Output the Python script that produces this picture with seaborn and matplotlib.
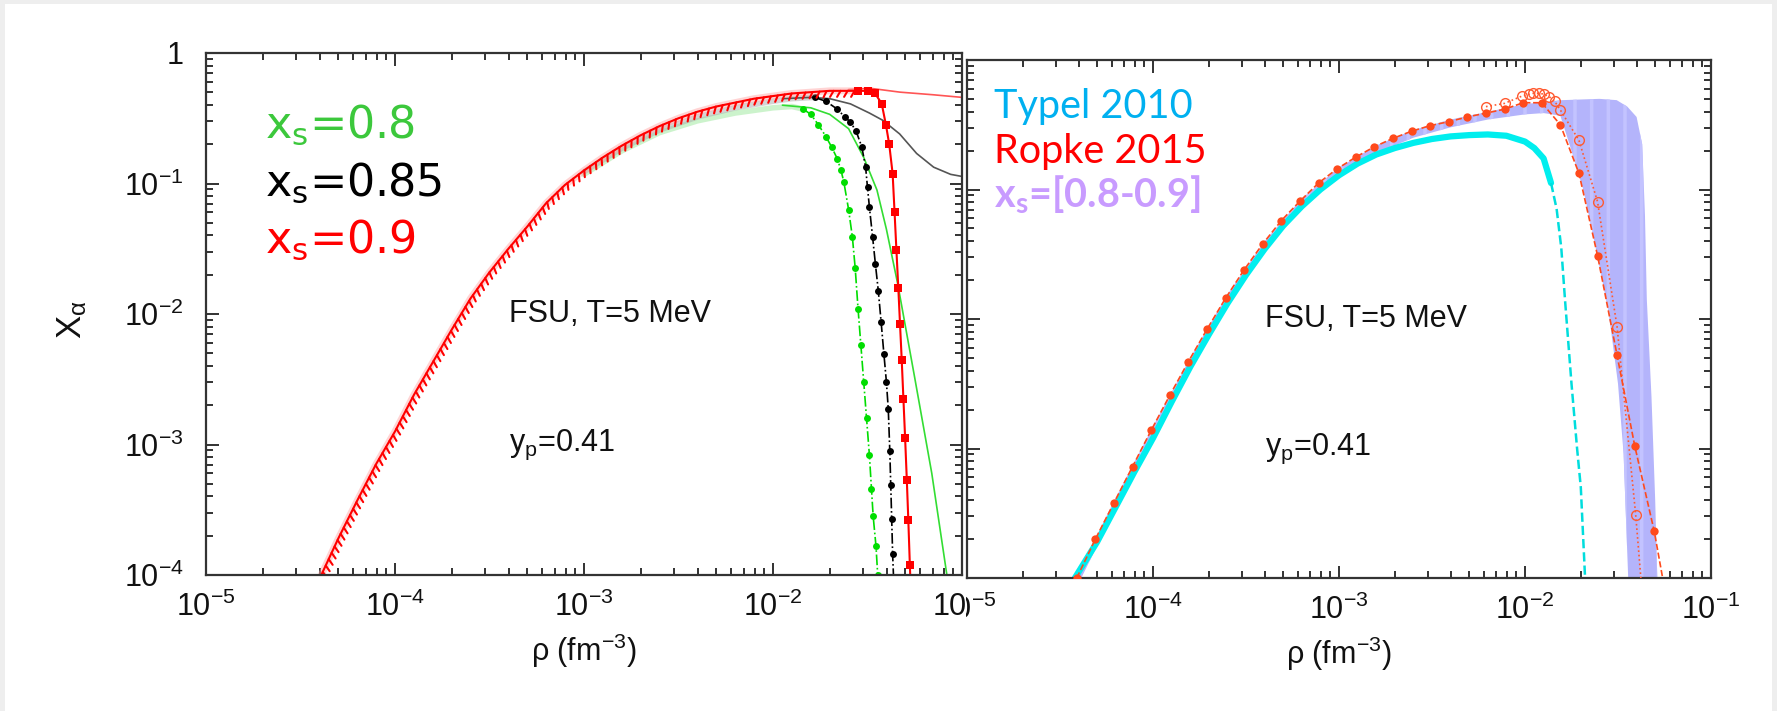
import numpy as np
import matplotlib
matplotlib.use("Agg")
import matplotlib.pyplot as plt
import matplotlib.patheffects as pe
import matplotlib.font_manager as fm
from matplotlib.patches import Rectangle
from matplotlib.ticker import LogLocator, FuncFormatter, NullFormatter
from matplotlib.transforms import Bbox, TransformedBbox
import seaborn as sns

# ---- data, stored as log10 values ----
# left panel
red09_lx = [-4.39, -4.3, -4.2, -4.1, -4.0, -3.9, -3.8, -3.7, -3.6, -3.5, -3.4, -3.3, -3.2, -3.1,
            -3.0, -2.9, -2.8, -2.7, -2.6, -2.5, -2.4, -2.3, -2.2, -2.1, -2.0, -1.9, -1.8, -1.7,
            -1.6, -1.55]
red09_ly = [-4.0, -3.72, -3.43, -3.15, -2.90, -2.62, -2.37, -2.12, -1.88, -1.68, -1.50, -1.33,
            -1.15, -1.01, -0.90, -0.80, -0.71, -0.63, -0.56, -0.50, -0.45, -0.41, -0.38, -0.35,
            -0.33, -0.31, -0.30, -0.29, -0.29, -0.29]
red09_sq_lx = [-1.55, -1.50, -1.46, -1.425, -1.402, -1.385, -1.367, -1.357, -1.347, -1.337,
               -1.328, -1.319, -1.31, -1.301, -1.292, -1.284, -1.276, -1.268]
red09_sq_ly = [-0.29, -0.29, -0.31, -0.387, -0.554, -0.70, -0.925, -1.215, -1.51, -1.80,
               -2.076, -2.35, -2.65, -2.95, -3.27, -3.58, -3.92, -4.25]
red09_thin_lx = [-1.6, -1.487, -1.328, -1.153, -1.0]
red09_thin_ly = [-0.28, -0.27, -0.30, -0.32, -0.34]

blk_dot_lx = [-1.78, -1.72, -1.66, -1.62, -1.59, -1.56, -1.53, -1.51, -1.50, -1.49, -1.473,
              -1.458, -1.443, -1.428, -1.413, -1.40, -1.39, -1.382, -1.377, -1.372, -1.367, -1.36]
blk_dot_ly = [-0.34, -0.37, -0.43, -0.49, -0.53, -0.60, -0.72, -0.875, -1.03, -1.18, -1.41,
              -1.62, -1.82, -2.06, -2.31, -2.52, -2.73, -3.05, -3.31, -3.57, -3.84, -4.1]
blk_thin_lx = [-1.95, -1.8, -1.7, -1.59, -1.49, -1.42, -1.33, -1.24, -1.15, -1.06, -1.0]
blk_thin_ly = [-0.35, -0.34, -0.35, -0.39, -0.46, -0.515, -0.62, -0.77, -0.875, -0.93, -0.946]

grn_dot_lx = [-1.84, -1.80, -1.76, -1.72, -1.69, -1.66, -1.64, -1.625, -1.60, -1.58, -1.565,
              -1.55, -1.535, -1.52, -1.505, -1.49, -1.479, -1.47, -1.455, -1.446]
grn_dot_ly = [-0.43, -0.47, -0.55, -0.64, -0.72, -0.81, -0.90, -0.99, -1.20, -1.41, -1.65,
              -1.96, -2.24, -2.52, -2.80, -3.08, -3.34, -3.55, -3.78, -4.0]
grn_thin_lx = [-1.95, -1.8, -1.7, -1.6, -1.52, -1.45, -1.40, -1.34, -1.25, -1.16, -1.08, -1.05]
grn_thin_ly = [-0.40, -0.42, -0.47, -0.58, -0.80, -1.05, -1.35, -1.77, -2.49, -3.22, -4.0, -4.3]

faint_grn_lx = [-3.0, -2.8, -2.6, -2.4, -2.2, -2.0, -1.9, -1.84]
faint_grn_ly = [-0.93, -0.75, -0.61, -0.52, -0.46, -0.42, -0.41, -0.43]
faint_gry_lx = [-3.0, -2.8, -2.6, -2.4, -2.2, -2.0, -1.9, -1.78]
faint_gry_ly = [-0.91, -0.73, -0.59, -0.49, -0.42, -0.37, -0.35, -0.34]

# right panel
typel_lx = [-4.42, -4.3, -4.2, -4.1, -4.0, -3.9, -3.8, -3.7, -3.6, -3.5, -3.4, -3.3, -3.2, -3.1,
            -3.0, -2.9, -2.8, -2.7, -2.6, -2.5, -2.4, -2.3, -2.2, -2.1, -2.0, -1.95, -1.9, -1.86]
typel_ly = [-4.0, -3.72, -3.45, -3.18, -2.92, -2.64, -2.37, -2.12, -1.88, -1.66, -1.46, -1.28,
            -1.13, -1.00, -0.89, -0.80, -0.73, -0.68, -0.64, -0.61, -0.59, -0.58, -0.575,
            -0.585, -0.63, -0.68, -0.76, -0.95]
typel_drop_lx = [-1.86, -1.83, -1.805, -1.785, -1.75, -1.72, -1.70, -1.677, -1.67]
typel_drop_ly = [-0.95, -1.15, -1.45, -1.85, -2.5, -3.0, -3.3, -4.0, -4.2]

ropke_lx = [-4.41, -4.31, -4.21, -4.11, -4.01, -3.91, -3.81, -3.71, -3.61, -3.51, -3.41, -3.31,
            -3.21, -3.11, -3.01, -2.91, -2.81, -2.71, -2.61, -2.51, -2.41, -2.31, -2.21, -2.11,
            -2.01, -1.91, -1.81, -1.71, -1.61, -1.505, -1.41, -1.305, -1.21]
ropke_ly = [-4.0, -3.70, -3.42, -3.14, -2.86, -2.59, -2.33, -2.08, -1.84, -1.62, -1.42, -1.24,
            -1.09, -0.95, -0.84, -0.75, -0.67, -0.605, -0.55, -0.507, -0.476, -0.44, -0.41,
            -0.38, -0.33, -0.33, -0.50, -0.875, -1.51, -2.28, -2.98, -3.64, -4.4]
ropke_open_lx = [-2.21, -2.11, -2.015, -1.98, -1.955, -1.926, -1.90, -1.87, -1.84, -1.81, -1.71,
                 -1.61, -1.505, -1.405, -1.36]
ropke_open_ly = [-0.36, -0.335, -0.278, -0.265, -0.257, -0.257, -0.263, -0.283, -0.32, -0.386,
                 -0.62, -1.094, -2.06, -3.51, -4.3]

band_top_lx = [-4.41, -4.2, -4.0, -3.8, -3.6, -3.4, -3.2, -3.0, -2.8, -2.6, -2.4, -2.2, -2.0, -1.8,
               -1.6, -1.507, -1.45, -1.40, -1.37, -1.355, -1.345, -1.32, -1.30, -1.285]
band_top_ly = [-3.98, -3.38, -2.83, -2.30, -1.81, -1.40, -1.07, -0.83, -0.66, -0.54, -0.46, -0.40,
               -0.34, -0.31, -0.30, -0.31, -0.36, -0.44, -0.65, -1.2, -1.85, -2.6, -3.4, -4.2]
band_bot_lx = [-1.44, -1.47, -1.50, -1.55, -1.62, -1.685, -1.75, -1.81, -1.9, -2.0, -2.2, -2.4,
               -2.6, -2.8, -3.0, -3.2, -3.4, -3.6, -3.8, -4.0, -4.2, -4.42]
band_bot_ly = [-4.2, -3.04, -2.5, -1.95, -1.45, -1.01, -0.70, -0.43, -0.41, -0.42, -0.46, -0.52,
               -0.60, -0.72, -0.90, -1.15, -1.47, -1.88, -2.37, -2.90, -3.46, -4.1]

left_labels = [r'x$_\mathregular{s}$=0.8', r'x$_\mathregular{s}$=0.85', r'x$_\mathregular{s}$=0.9']
left_colors = ['#3cc83c', '#000000', '#ff0000']
right_labels = ['Typel 2010', 'Ropke 2015', r'x$_\mathregular{s}$=[0.8-0.9]']
right_colors = ['#00b0f0', '#ff0000', '#c89bff']
right_weights = ['normal', 'normal', 'bold']

# ---- style ----
sns.set_theme(style='ticks')
fonts = fm.fontManager.ttflist
names = {f.name for f in fonts}
tick_font = 'Liberation Sans Narrow' if 'Liberation Sans Narrow' in names else 'Liberation Sans'
lato_bold = any(f.name == 'Lato' and f.weight in (700, 'bold') for f in fonts)
bold_font = 'Lato' if lato_bold else 'Open Sans'
plt.rcParams['font.family'] = [tick_font, 'DejaVu Sans']
plt.rcParams['mathtext.fontset'] = 'custom'
plt.rcParams['mathtext.rm'] = tick_font
plt.rcParams['mathtext.sf'] = tick_font
plt.rcParams['mathtext.it'] = tick_font + ':italic'
plt.rcParams['hatch.linewidth'] = 2.5

W, H = 1777, 711
fig = plt.figure(figsize=(W / 100, H / 100), dpi=100)
fig.patch.set_facecolor('#eeeeee')
fig.add_artist(Rectangle((5 / W, 0), 1767 / W, 707 / H, transform=fig.transFigure,
                         facecolor='white', edgecolor='none', zorder=-2))

ax1 = fig.add_axes([206 / W, 1 - 575 / H, 756 / W, 522 / H], zorder=0)
fig.add_artist(Rectangle((965 / W, 0), 807 / W, 707 / H, transform=fig.transFigure,
                         facecolor='white', edgecolor='none', zorder=0.5))
ax2 = fig.add_axes([967 / W, 1 - 578 / H, 744 / W, 518 / H], zorder=1)


def tl(v):
    return 10 ** np.array(v)


def fmt(v, pos):
    e = int(round(np.log10(v)))
    return '1' if e == 0 else r'$\mathsf{10^{%d}}$' % e


for ax in (ax1, ax2):
    ax.set_xscale('log')
    ax.set_yscale('log')
    ax.set_xlim(1e-5, 1e-1)
    ax.set_ylim(1e-4, 1)
    ax.xaxis.set_major_locator(LogLocator(base=10, numticks=10))
    ax.xaxis.set_minor_locator(LogLocator(base=10, subs=np.arange(2, 10), numticks=20))
    ax.yaxis.set_major_locator(LogLocator(base=10, numticks=10))
    ax.yaxis.set_minor_locator(LogLocator(base=10, subs=np.arange(2, 10), numticks=20))
    ax.xaxis.set_major_formatter(FuncFormatter(fmt))
    ax.yaxis.set_major_formatter(FuncFormatter(fmt))
    ax.xaxis.set_minor_formatter(NullFormatter())
    ax.yaxis.set_minor_formatter(NullFormatter())
    ax.tick_params(which='both', direction='in', top=True, right=True, colors='#222222',
                   width=1.3, labelsize=22, labelcolor='#111111')
    ax.tick_params(which='major', length=9)
    ax.tick_params(which='minor', length=5)
    ax.tick_params(axis='x', pad=12)
    ax.tick_params(axis='y', pad=16)
    for s in ax.spines.values():
        s.set_linewidth(1.6)
        s.set_color('#333333')
    ax.set_facecolor('white')
    ax.set_xlabel(r'ρ (fm$^{\mathsf{-3}}$)', fontsize=22, labelpad=6, color='#111111')
    ax.text(4e-4, 1e-2, 'FSU, T=5 MeV', fontsize=22, va='center', ha='left', color='#111111')
    ax.text(4e-4, 1e-3, r'$\mathsf{y_p}$=0.41', fontsize=22, va='center', ha='left',
            color='#111111')

ax2.tick_params(axis='y', labelleft=False)
fig.text(72 / W, 1 - 320 / H, r'$\mathsf{X_{\alpha}}$', rotation=90, fontsize=25,
         ha='center', va='center', color='#111111')

# ---- left panel ----
sns.lineplot(x=tl(faint_grn_lx), y=tl(faint_grn_ly), ax=ax1, sort=False, estimator=None,
             color='#9be89b', lw=4, alpha=0.5)
sns.lineplot(x=tl(faint_gry_lx), y=tl(faint_gry_ly), ax=ax1, sort=False, estimator=None,
             color='#aaaaaa', lw=4, alpha=0.5)
sns.lineplot(x=tl(red09_thin_lx), y=tl(red09_thin_ly), ax=ax1, sort=False, estimator=None,
             color='#ff5555', lw=1.2)
sns.lineplot(x=tl(blk_thin_lx), y=tl(blk_thin_ly), ax=ax1, sort=False, estimator=None,
             color='#555555', lw=1.2)
sns.lineplot(x=tl(grn_thin_lx), y=tl(grn_thin_ly), ax=ax1, sort=False, estimator=None,
             color='#33dd33', lw=1.2)
sns.lineplot(x=tl(grn_dot_lx), y=tl(grn_dot_ly), ax=ax1, sort=False, estimator=None,
             color='#00dd00', lw=1.2, linestyle='-.', marker='o', markersize=5, mew=0)
sns.lineplot(x=tl(blk_dot_lx), y=tl(blk_dot_ly), ax=ax1, sort=False, estimator=None,
             color='#000000', lw=1.2, linestyle='-.', marker='o', markersize=5, mew=0)
sns.lineplot(x=tl(red09_lx), y=tl(red09_ly), ax=ax1, sort=False, estimator=None,
             color='#ffaaaa', lw=5, alpha=0.5)
sns.lineplot(x=tl(red09_lx), y=tl(red09_ly), ax=ax1, sort=False, estimator=None,
             color='#ff0000', lw=1.5,
             path_effects=[pe.withTickedStroke(angle=-120, spacing=5, length=1.0)])
sns.lineplot(x=tl(red09_sq_lx), y=tl(red09_sq_ly), ax=ax1, sort=False, estimator=None,
             color='#ff0000', lw=1.5, marker='s', markersize=6, mew=0)

for i, (lab, c) in enumerate(zip(left_labels, left_colors)):
    ax1.text(0.078, 0.837 - i * 0.11, lab, transform=ax1.transAxes,
             fontsize=32, family='DejaVu Sans', color=c, va='baseline', ha='left')

# ---- right panel ----
ax2.fill(np.concatenate([tl(band_top_lx), tl(band_bot_lx)]),
         np.concatenate([tl(band_top_ly), tl(band_bot_ly)]),
         facecolor='#b4b4fb', edgecolor='#c3c3ff', hatch='|', lw=0, zorder=1)
sns.lineplot(x=tl(typel_lx), y=tl(typel_ly), ax=ax2, sort=False, estimator=None,
             color='#00eeee', lw=4.5, zorder=2)
sns.lineplot(x=tl(typel_drop_lx), y=tl(typel_drop_ly), ax=ax2, sort=False, estimator=None,
             color='#00dddd', lw=1.8, linestyle='--', zorder=2)
sns.lineplot(x=tl(ropke_open_lx), y=tl(ropke_open_ly), ax=ax2, sort=False, estimator=None,
             color='#ff5a30', lw=1.2, linestyle=':', marker='o', markersize=7, mfc='none',
             mec='#ff5a30', mew=1.0, zorder=3)
sns.lineplot(x=tl(ropke_lx), y=tl(ropke_ly), ax=ax2, sort=False, estimator=None,
             color='#ff4a1c', lw=1.2, linestyle='--', marker='o', markersize=6, mew=0, zorder=3)

for i, (lab, c, fw) in enumerate(zip(right_labels, right_colors, right_weights)):
    fam = bold_font if fw == 'bold' else 'Lato'
    ax2.text(0.036, 0.888 - i * 0.086, lab, transform=ax2.transAxes, fontsize=28.5,
             family=fam, fontweight=fw, color=c, va='baseline', ha='left')

fig.canvas.draw()
clip = TransformedBbox(Bbox([[966 / W, 0], [1, 1]]), fig.transFigure)
for lbl in ax2.get_xticklabels():
    lbl.set_clip_box(clip)
    lbl.set_clip_on(True)

fig.savefig('out.png', dpi=100, facecolor=fig.get_facecolor())
